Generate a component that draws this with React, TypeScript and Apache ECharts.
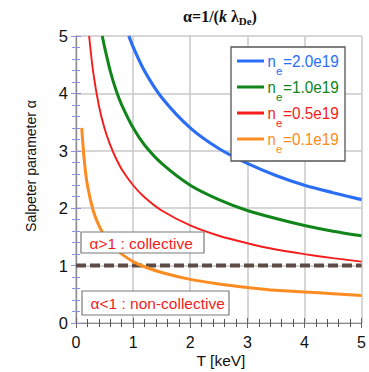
import React, { useEffect, useRef } from "react";
import * as echarts from "echarts";

// Data
const T_ORANGE = [0.1, 0.15, 0.2, 0.3, 0.4, 0.5, 0.6, 0.7, 0.8, 1, 1.2, 1.5, 2, 2.5, 3, 3.5, 4, 4.5, 5];
const A_ORANGE = [3.4, 2.78, 2.4, 1.96, 1.7, 1.52, 1.39, 1.28, 1.2, 1.07, 0.98, 0.88, 0.76, 0.68, 0.62, 0.57, 0.54, 0.51, 0.48];
const T_RED = [0.23, 0.3, 0.4, 0.5, 0.6, 0.7, 0.8, 1, 1.2, 1.5, 2, 2.5, 3, 3.5, 4, 4.5, 5];
const A_RED = [5.0, 4.38, 3.79, 3.39, 3.1, 2.87, 2.68, 2.4, 2.19, 1.96, 1.7, 1.52, 1.39, 1.28, 1.2, 1.13, 1.07];
const T_GREEN = [0.46, 0.5, 0.6, 0.7, 0.8, 1, 1.2, 1.5, 2, 2.5, 3, 3.5, 4, 4.5, 5];
const A_GREEN = [5.0, 4.81, 4.39, 4.06, 3.8, 3.4, 3.1, 2.78, 2.4, 2.15, 1.96, 1.82, 1.7, 1.6, 1.52];
const T_BLUE = [0.925, 1, 1.2, 1.5, 2, 2.5, 3, 3.5, 4, 4.5, 5];
const A_BLUE = [5.0, 4.81, 4.39, 3.93, 3.4, 3.04, 2.78, 2.57, 2.4, 2.27, 2.15];

const THRESHOLD_T = [0, 5];
const THRESHOLD_A = [1, 1];

const LEGEND_VALUES = ["=2.0e19", "=1.0e19", "=0.5e19", "=0.1e19"];
const LEGEND_COLORS = ["#2a6ef6", "#11851a", "#f51c1c", "#fb8c22"];

const X_NAME = "T [keV]";
const Y_NAME = "Salpeter parameter α";
const NOTE_ABOVE = "α>1 : collective";
const NOTE_BELOW = "α<1 : non-collective";

const X_TICKS = [0, 1, 2, 3, 4, 5];
const Y_TICKS = [0, 1, 2, 3, 4, 5];

const pair = (xs: number[], ys: number[]) => xs.map((x, i) => [x, ys[i]]);

const SANS = "Liberation Sans, Arial, sans-serif";
const SERIF = "Liberation Serif, Times New Roman, serif";

export default function App() {
  const ref = useRef<HTMLDivElement>(null);
  useEffect(() => {
    if (!ref.current) return;
    const chart = echarts.init(ref.current, undefined, { renderer: "svg" });

    const baseAxis = {
      type: "value" as const,
      min: X_TICKS[0],
      max: X_TICKS[X_TICKS.length - 1],
      interval: 1,
      axisLine: { show: true, lineStyle: { color: "#8c8c8c", width: 1.2 } },
      axisTick: { show: true, inside: true, length: 5, lineStyle: { color: "#666" } },
      minorTick: { show: true, splitNumber: 5, length: 4, lineStyle: { color: "#555" } },
    };

    const legendGraphics: any[] = [];
    const lx = 237;
    LEGEND_VALUES.forEach((v, i) => {
      const y = 61 + i * 26;
      const c = LEGEND_COLORS[i];
      legendGraphics.push(
        { type: "line", shape: { x1: lx, y1: y, x2: lx + 27, y2: y }, style: { stroke: c, lineWidth: 3 }, z: 101 },
        { type: "text", x: 267.5, y: y, scaleX: 0.9, style: { text: "n", fill: c, font: `16.5px ${SANS}`, align: "left", verticalAlign: "middle" }, z: 101 },
        { type: "text", x: 276, y: y + 10, style: { text: "e", fill: c, font: `11.5px ${SANS}`, align: "left", verticalAlign: "middle" }, z: 101 },
        { type: "text", x: 283, y: y, scaleX: 0.93, style: { text: v, fill: c, font: `16.5px ${SANS}`, align: "left", verticalAlign: "middle" }, z: 101 }
      );
    });

    const lineSeries = (name: string, data: number[][], color: string, width: number) => ({
      name,
      type: "line",
      data,
      smooth: 0.3,
      showSymbol: false,
      symbol: "none",
      lineStyle: { color, width },
      z: 3,
      silent: true,
    });

    chart.setOption({
      animation: false,
      grid: { left: 76, right: 5, top: 36, bottom: 49, containLabel: false },
      xAxis: [
        {
          ...baseAxis,
          position: "bottom",
          splitLine: { show: true, lineStyle: { color: "#c9c9c9", width: 1.5 } },
          axisLabel: { show: true, color: "#111", fontSize: 16, fontFamily: SANS, margin: 11 },
        },
        {
          ...baseAxis,
          position: "top",
          splitLine: { show: false },
          axisLabel: { show: false },
        },
      ],
      yAxis: [
        {
          ...baseAxis,
          min: Y_TICKS[0],
          max: Y_TICKS[Y_TICKS.length - 1],
          position: "left",
          minorTick: { show: true, splitNumber: 5, length: 4, lineStyle: { color: "#8f8fdc" } },
          axisTick: { show: true, inside: true, length: 5, lineStyle: { color: "#8f8fdc" } },
          splitLine: { show: true, lineStyle: { color: "#c9c9c9", width: 1.5 } },
          axisLabel: { show: true, color: "#111", fontSize: 16.5, fontFamily: SANS, margin: 8 },
        },
        {
          ...baseAxis,
          min: Y_TICKS[0],
          max: Y_TICKS[Y_TICKS.length - 1],
          position: "right",
          minorTick: { show: true, splitNumber: 5, length: 4, lineStyle: { color: "#8f8fdc" } },
          axisTick: { show: true, inside: true, length: 5, lineStyle: { color: "#8f8fdc" } },
          splitLine: { show: false },
          axisLabel: { show: false },
        },
      ],
      series: [
        {
          name: "threshold",
          type: "line",
          data: pair(THRESHOLD_T, THRESHOLD_A),
          showSymbol: false,
          symbol: "none",
          lineStyle: { color: "#5e4b45", width: 4, type: [10, 4] },
          z: 2,
          silent: true,
        },
        lineSeries("0.1e19", pair(T_ORANGE, A_ORANGE), LEGEND_COLORS[3], 3),
        lineSeries("0.5e19", pair(T_RED, A_RED), LEGEND_COLORS[2], 1.9),
        lineSeries("1.0e19", pair(T_GREEN, A_GREEN), LEGEND_COLORS[1], 3),
        lineSeries("2.0e19", pair(T_BLUE, A_BLUE), LEGEND_COLORS[0], 3.2),
      ],
      graphic: [
        {
          type: "text",
          x: 220,
          y: 17,
          style: {
            text: "{a|α=1/(}{k|k}{a| λ}{s|De}{a|)}",
            align: "center",
            verticalAlign: "middle",
            rich: {
              a: { font: `bold 16px ${SERIF}`, fill: "#111", verticalAlign: "top", lineHeight: 18 },
              k: { font: `italic bold 16px ${SERIF}`, fill: "#111", verticalAlign: "top", lineHeight: 18 },
              s: { font: `bold 11px ${SERIF}`, fill: "#111", verticalAlign: "bottom", lineHeight: 11, padding: [14, 0, 0, 0] },
            },
          },
          z: 100,
        },
        {
          type: "text",
          x: 221,
          y: 360,
          style: { text: X_NAME, font: `15.5px ${SANS}`, fill: "#111", align: "center", verticalAlign: "middle" },
          z: 100,
        },
        {
          type: "text",
          x: 31,
          y: 166,
          rotation: Math.PI / 2,
          style: { text: Y_NAME, font: `14px ${SANS}`, fill: "#111", align: "center", verticalAlign: "middle" },
          z: 100,
        },
        {
          type: "rect",
          shape: { x: 81, y: 232, width: 123, height: 21 },
          style: { fill: "#fff", stroke: "#7a7a7a", lineWidth: 1.2 },
          z: 100,
        },
        {
          type: "text",
          x: 89.5,
          y: 243,
          style: { text: NOTE_ABOVE, font: `15.5px ${SANS}`, fill: "#f21c1c", align: "left", verticalAlign: "middle" },
          z: 101,
        },
        {
          type: "rect",
          shape: { x: 82, y: 291, width: 147, height: 24 },
          style: { fill: "#fff", stroke: "#7a7a7a", lineWidth: 1.2 },
          z: 100,
        },
        {
          type: "text",
          x: 90.5,
          y: 303,
          style: { text: NOTE_BELOW, font: `15.5px ${SANS}`, fill: "#f21c1c", align: "left", verticalAlign: "middle" },
          z: 101,
        },
        {
          type: "rect",
          shape: { x: 231, y: 47, width: 114, height: 114 },
          style: { fill: "#fff", stroke: "#555", lineWidth: 1.3 },
          z: 100,
        },
        ...legendGraphics,
      ],
    });
    return () => chart.dispose();
  }, []);
  return (
    <div
      ref={ref}
      style={{ position: "fixed", left: 0, top: 0, width: 369, height: 372, background: "#fff" }}
    />
  );
}
